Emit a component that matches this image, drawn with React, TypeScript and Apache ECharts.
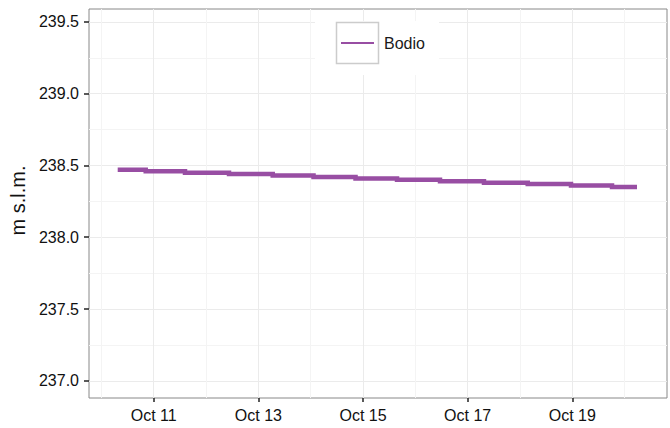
import React, { useEffect, useRef } from "react";
import * as echarts from "echarts";

// ---- data ----
const seriesName = "Bodio";
// times where the level changes (local time), and the level from that moment
const stepTimes: string[] = [
  "2017-10-10T07:29:00",
  "2017-10-10T20:20:00",
  "2017-10-11T14:21:00",
  "2017-10-12T10:32:00",
  "2017-10-13T06:35:00",
  "2017-10-14T01:18:00",
  "2017-10-14T20:34:00",
  "2017-10-15T15:36:00",
  "2017-10-16T11:19:00",
  "2017-10-17T07:29:00",
  "2017-10-18T03:33:00",
  "2017-10-18T23:24:00",
  "2017-10-19T18:13:00",
  "2017-10-20T05:41:00",
];
const levels: number[] = [
  238.47, 238.46, 238.45, 238.44, 238.43, 238.42, 238.41, 238.40, 238.39,
  238.38, 238.37, 238.36, 238.35, 238.35,
];
const xMajorDays: string[] = [
  "2017-10-11T00:00:00",
  "2017-10-13T00:00:00",
  "2017-10-15T00:00:00",
  "2017-10-17T00:00:00",
  "2017-10-19T00:00:00",
];
const xMinorDays: string[] = [
  "2017-10-10T00:00:00",
  "2017-10-12T00:00:00",
  "2017-10-14T00:00:00",
  "2017-10-16T00:00:00",
  "2017-10-18T00:00:00",
  "2017-10-20T00:00:00",
];
const yMajorTicks: number[] = [237.0, 237.5, 238.0, 238.5, 239.0, 239.5];
const yMinorTicks: number[] = [237.25, 237.75, 238.25, 238.75, 239.25];
const xRange: string[] = ["2017-10-09T18:19:00", "2017-10-20T19:26:00"];
const yRange: number[] = [236.88, 239.59];
const yTitle = "m s.l.m.";

const ts = (s: string) => new Date(s).getTime();
const FONT = "'Liberation Sans', Arial, Helvetica, sans-serif";
const COLOR = "#984EA3";

export default function App() {
  const ref = useRef<HTMLDivElement>(null);
  useEffect(() => {
    if (!ref.current) return;
    const chart = echarts.init(ref.current, undefined, { renderer: "svg" });
    const data = stepTimes.map((t, i) => [ts(t), levels[i]]);
    const xMin = ts(xRange[0]);
    const xMax = ts(xRange[1]);
    chart.setOption({
      animation: false,
      backgroundColor: "#ffffff",
      grid: {
        left: 89,
        right: 3,
        top: 9,
        bottom: 30,
        show: true,
        borderColor: "#888888",
        borderWidth: 1,
        backgroundColor: "transparent",
        containLabel: false,
      },
      legend: {
        show: true,
        data: [seriesName],
        left: 341,
        top: 35,
        padding: 0,
        icon: "rect",
        itemWidth: 33,
        itemHeight: 2,
        z: 20,
        textStyle: {
          fontFamily: FONT,
          fontSize: 16,
          color: "#1a1a1a",
          padding: [0, 0, 0, 5],
        },
      },
      graphic: [
        {
          type: "rect",
          z: 10,
          silent: true,
          shape: { x: 315, y: 21, width: 124, height: 54 },
          style: { fill: "#ffffff" },
        },
        {
          type: "rect",
          z: 11,
          silent: true,
          shape: { x: 336.5, y: 22.5, width: 42, height: 41 },
          style: { fill: "#ffffff", stroke: "#cccccc", lineWidth: 1.5 },
        },
      ],
      xAxis: [
        {
          type: "value",
          min: xMin,
          max: xMax,
          axisLine: { show: false },
          axisTick: {
            show: true,
            length: 4,
            lineStyle: { color: "#222222", width: 1.5 },
            customValues: xMajorDays.map(ts),
          },
          axisLabel: {
            show: true,
            margin: 9,
            fontFamily: FONT,
            fontSize: 16,
            color: "#111111",
            customValues: xMajorDays.map(ts),
            formatter: (v: number) => "Oct " + new Date(v).getDate(),
          },
          splitLine: { show: true, lineStyle: { color: "#EBEBEB", width: 1 } },
        },
        {
          type: "value",
          min: xMin,
          max: xMax,
          position: "bottom",
          axisLine: { show: false },
          axisTick: { show: false, customValues: xMinorDays.map(ts) },
          axisLabel: { show: false, customValues: xMinorDays.map(ts) },
          splitLine: { show: true, lineStyle: { color: "#F4F4F4", width: 1 } },
        },
      ],
      yAxis: [
        {
          type: "value",
          min: yRange[0],
          max: yRange[1],
          name: yTitle,
          nameLocation: "middle",
          nameGap: 56,
          nameRotate: 90,
          nameTextStyle: {
            fontFamily: FONT,
            fontSize: 20,
            color: "#111111",
            padding: [0, 0, 0, 6],
          },
          axisLine: { show: false },
          axisTick: {
            show: true,
            length: 5,
            lineStyle: { color: "#222222", width: 1.5 },
            customValues: yMajorTicks,
          },
          axisLabel: {
            show: true,
            margin: 10,
            fontFamily: FONT,
            fontSize: 16,
            color: "#111111",
            customValues: yMajorTicks,
            formatter: (v: number) => v.toFixed(1),
          },
          splitLine: { show: true, lineStyle: { color: "#EBEBEB", width: 1 } },
        },
        {
          type: "value",
          min: yRange[0],
          max: yRange[1],
          position: "left",
          axisLine: { show: false },
          axisTick: { show: false, customValues: yMinorTicks },
          axisLabel: { show: false, customValues: yMinorTicks },
          splitLine: { show: true, lineStyle: { color: "#F4F4F4", width: 1 } },
        },
      ],
      series: [
        {
          name: seriesName,
          type: "line",
          step: "end",
          xAxisIndex: 0,
          yAxisIndex: 0,
          data,
          showSymbol: false,
          symbol: "none",
          z: 5,
          lineStyle: { color: COLOR, width: 4.5, cap: "butt", join: "miter" },
          itemStyle: { color: COLOR },
        },
      ],
    });
    return () => chart.dispose();
  }, []);
  return <div ref={ref} style={{ width: 670, height: 428, position: "absolute", left: 0, top: 0 }} />;
}
